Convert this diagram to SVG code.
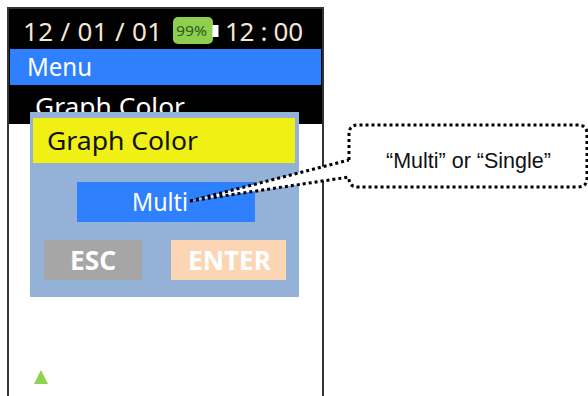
<svg xmlns="http://www.w3.org/2000/svg" width="588" height="396" viewBox="0 0 588 396">
<style>
.s{font-family:"Noto Sans","Open Sans",sans-serif}
.w{fill:#fff}
.t{fill:#f4e6d6;font-size:26px}
.b{font-weight:700;font-size:27px;fill:#fff}
.dot{fill:none;stroke:#000;stroke-width:3;stroke-dasharray:3 3}
</style>
<rect width="588" height="396" fill="#fff"/>
<g id="screen">
<rect x="8" y="8" width="315" height="400" fill="#fff" stroke="#333" stroke-width="2"/>
<rect x="9" y="9" width="313" height="115" fill="#000"/>
<rect x="10" y="49" width="311" height="36" fill="#2f80ff"/>
<text class="s t" x="23" y="41" textLength="139" lengthAdjust="spacing">12 / 01 / 01</text>
<rect x="173" y="17" width="40" height="27" rx="5" fill="#8fcf50"/>
<rect x="212.500" y="25" width="6" height="12" fill="#fff"/>
<text class="s" x="176" y="36" font-size="15" fill="#2e5a1c" textLength="31" lengthAdjust="spacingAndGlyphs">99%</text>
<text class="s t" x="225" y="41" textLength="78" lengthAdjust="spacing">12 : 00</text>
<text class="s w" x="27" y="76" font-size="26" textLength="65" lengthAdjust="spacingAndGlyphs">Menu</text>
<text class="s w" x="35" y="116" font-size="26" textLength="150" lengthAdjust="spacingAndGlyphs">Graph Color</text>
<polygon points="41,370 48,384 34,384" fill="#8fd150"/>
</g>
<g id="dialog">
<rect x="30" y="112" width="269" height="185" fill="#94b2d8"/>
<rect x="33" y="118" width="262" height="45" fill="#f0f014"/>
<text class="s" x="47" y="150" font-size="26" fill="#111" textLength="151" lengthAdjust="spacingAndGlyphs">Graph Color</text>
</g>
<g id="multi">
<rect x="77" y="182" width="178" height="40" fill="#2f80ff"/>
<text class="s w" x="132" y="211" font-size="26" textLength="56" lengthAdjust="spacingAndGlyphs">Multi</text>
</g>
<g id="esc">
<rect x="44" y="240" width="98" height="40" fill="#a6a6a6"/>
<text class="s b" x="70" y="270" textLength="46" lengthAdjust="spacingAndGlyphs">ESC</text>
</g>
<g id="enter">
<rect x="171" y="240" width="115" height="40" fill="#fcd5b5"/>
<text class="s b" x="188" y="270" textLength="83" lengthAdjust="spacingAndGlyphs">ENTER</text>
</g>
<g id="connectors">
<polygon points="190,201 349,160 349,177" fill="#fff"/>
<path class="dot" d="M190 201 L349 160 M190 201 L349 177"/>
</g>
<g id="callout">
<path d="M349 160 V134 Q349 125 358 125 H578 Q587 125 587 134 V178 Q587 187 578 187 H358 Q349 187 349 178 V177 Z" fill="#fff" stroke="none"/>
<path d="M349 160 V134 Q349 125 358 125 H578 Q587 125 587 134 V178 Q587 187 578 187 H358 Q349 187 349 178 V177" class="dot"/>
<text x="386" y="168" font-family="Liberation Sans, Arial, sans-serif" font-size="21.500" fill="#111">“Multi” or “Single”</text>
</g>
</svg>
